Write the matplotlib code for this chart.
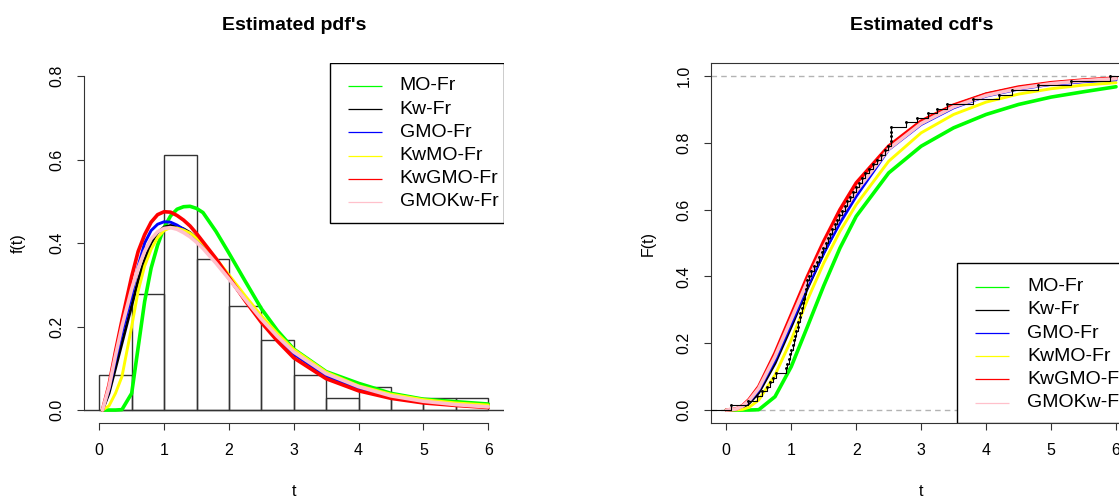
import numpy as np
import matplotlib.pyplot as plt
from matplotlib.patches import Rectangle

plt.rcParams['font.family'] = ['Liberation Sans', 'DejaVu Sans']

sample = [0.08, 0.33, 0.47,
          0.55, 0.62, 0.67, 0.72, 0.77, 0.92, 0.94, 0.96, 0.98, 0.995,
          1.03, 1.05, 1.06, 1.08, 1.1, 1.11, 1.13, 1.14, 1.16, 1.18, 1.19,
          1.21, 1.23, 1.24, 1.25, 1.28, 1.31, 1.35, 1.39, 1.43, 1.47, 1.495,
          1.53, 1.56, 1.6, 1.63, 1.67, 1.7, 1.74, 1.78, 1.82, 1.86, 1.9, 1.95, 1.995,
          2.04, 2.09, 2.14, 2.2, 2.26, 2.32, 2.38, 2.44, 2.495,
          2.53, 2.53, 2.53, 2.53, 2.76, 2.93,
          3.1, 3.25, 3.4, 3.8, 4.2, 4.4, 4.8, 5.3, 5.9]
hist_breaks = [0, 0.5, 1, 1.5, 2, 2.5, 3, 3.5, 4, 4.5, 5, 5.5, 6]

labels = ["MO-Fr", "Kw-Fr", "GMO-Fr", "KwMO-Fr", "KwGMO-Fr", "GMOKw-Fr"]
colors = ["#00FF00", "#000000", "#0000FF", "#FFFF00", "#FF0000", "#FFC0CB"]
widths = [2.6, 2.1, 2.1, 2.1, 2.6, 2.6]

# fitted densities
t_pdf = [0.05, 0.15, 0.25, 0.35, 0.5, 0.6, 0.7, 0.8, 0.9, 1.0, 1.1, 1.2, 1.3, 1.4, 1.5, 1.6,
         1.8, 2.0, 2.25, 2.5, 2.75, 3.0, 3.5, 4.0, 4.5, 5.0, 5.5, 6.0]
pdf_mo = [0, 0, 0, 0.001, 0.04, 0.15, 0.26, 0.34, 0.395, 0.437, 0.465, 0.481, 0.487, 0.488, 0.483, 0.473,
          0.428, 0.376, 0.309, 0.243, 0.19, 0.146, 0.092, 0.064, 0.04, 0.026, 0.02, 0.0144]
pdf_kw = [0, 0.04, 0.1, 0.16, 0.25, 0.31, 0.36, 0.4, 0.425, 0.438, 0.442, 0.44, 0.434, 0.425, 0.412, 0.397,
          0.36, 0.318, 0.266, 0.218, 0.174, 0.136, 0.083, 0.051, 0.032, 0.02, 0.013, 0.008]
pdf_gmo = [0, 0.05, 0.12, 0.185, 0.275, 0.345, 0.4, 0.43, 0.445, 0.451, 0.45, 0.443, 0.433, 0.42, 0.406, 0.39,
           0.355, 0.315, 0.264, 0.216, 0.172, 0.134, 0.082, 0.05, 0.031, 0.019, 0.012, 0.007]
pdf_kwmo = [0, 0.01, 0.04, 0.08, 0.2, 0.285, 0.345, 0.385, 0.413, 0.43, 0.437, 0.436, 0.431, 0.424, 0.412, 0.398,
            0.363, 0.324, 0.274, 0.226, 0.183, 0.145, 0.091, 0.058, 0.038, 0.025, 0.017, 0.012]
pdf_kwgmo = [0, 0.06, 0.14, 0.215, 0.32, 0.38, 0.42, 0.45, 0.468, 0.475, 0.474, 0.466, 0.455, 0.441, 0.423, 0.403,
             0.363, 0.318, 0.262, 0.21, 0.165, 0.125, 0.075, 0.046, 0.028, 0.017, 0.011, 0.006]
pdf_gmokw = [0, 0.055, 0.13, 0.2, 0.29, 0.34, 0.38, 0.41, 0.427, 0.435, 0.437, 0.433, 0.425, 0.415, 0.402, 0.387,
             0.352, 0.314, 0.265, 0.218, 0.176, 0.139, 0.087, 0.056, 0.034, 0.021, 0.013, 0.0075]

# fitted distribution functions
t_cdf = [0.0, 0.15, 0.25, 0.35, 0.5, 0.75, 1.0, 1.25, 1.5, 1.75, 2.0, 2.5, 3.0, 3.5,
         4.0, 4.5, 5.0, 5.5, 6.0]
cdf_mo = [0, 0, 0, 0, 0.001, 0.04, 0.13, 0.25, 0.372, 0.485, 0.58, 0.71, 0.79, 0.845,
          0.885, 0.915, 0.937, 0.953, 0.968]
cdf_kw = [0, 0.001, 0.007, 0.02, 0.052, 0.14, 0.25, 0.365, 0.47, 0.565, 0.648, 0.785, 0.862, 0.912,
          0.946, 0.966, 0.979, 0.987, 0.992]
cdf_gmo = [0, 0.002, 0.01, 0.025, 0.06, 0.15, 0.26, 0.37, 0.47, 0.56, 0.64, 0.78, 0.855, 0.905,
           0.94, 0.961, 0.975, 0.983, 0.988]
cdf_kwmo = [0, 0.0005, 0.002, 0.008, 0.03, 0.105, 0.21, 0.33, 0.44, 0.535, 0.615, 0.745, 0.83, 0.885,
            0.922, 0.946, 0.962, 0.973, 0.98]
cdf_kwgmo = [0, 0.003, 0.013, 0.031, 0.07, 0.17, 0.285, 0.4, 0.505, 0.6, 0.68, 0.79, 0.865, 0.913,
             0.946, 0.967, 0.98, 0.988, 0.994]
cdf_gmokw = [0, 0.003, 0.012, 0.028, 0.065, 0.16, 0.272, 0.385, 0.487, 0.578, 0.655, 0.782, 0.858, 0.908,
             0.942, 0.963, 0.977, 0.986, 0.992]

pdfs = [pdf_mo, pdf_kw, pdf_gmo, pdf_kwmo, pdf_kwgmo, pdf_gmokw]
cdfs = [cdf_mo, cdf_kw, cdf_gmo, cdf_kwmo, cdf_kwgmo, cdf_gmokw]

W, H = 1119, 497
AX_W, AX_H = 420.5, 360.7
fig = plt.figure(figsize=(W / 100, H / 100), dpi=100)
ax1 = fig.add_axes([83.7 / W, (H - 423.4) / H, 420.1 / W, AX_H / H])
ax2 = fig.add_axes([710.7 / W, (H - 423.4) / H, 420.9 / W, AX_H / H])


def draw_legend(ax, y0):
    """R-style boxed legend with thin sample lines."""
    x0 = 0.586
    box_h = 160 / AX_H
    ax.add_patch(Rectangle((x0, y0), 1 - x0, box_h, transform=ax.transAxes,
                           facecolor='white', edgecolor='black', lw=1, zorder=10))
    for i, (lab, col) in enumerate(zip(labels, colors)):
        yc = y0 + box_h - 23.2 * (i + 1) / AX_H
        ax.plot([x0 + 18 / AX_W, x0 + 52 / AX_W], [yc, yc], transform=ax.transAxes,
                color=col, lw=0.9, zorder=11, solid_capstyle='butt')
        ax.text(x0 + 70 / AX_W, yc, lab, transform=ax.transAxes, fontsize=14,
                va='center', ha='left', zorder=11)


def style_ticks(ax):
    ax.tick_params(direction='out', length=5, width=0.8, colors='#333333',
                   labelcolor='black', labelsize=11.5, pad=9)


# ---- pdf panel
ax1.hist(sample, bins=hist_breaks, density=True, fill=False, edgecolor='#333333', lw=1)
ax1.axhline(0, color='#333333', lw=1)
for y, c, w in zip(pdfs, colors, widths):
    ax1.plot(t_pdf, y, color=c, lw=w, solid_capstyle='round', solid_joinstyle='round')
ax1.set_xlim(-0.24, 6.24)
ax1.set_ylim(-0.032, 0.832)
for s in ['top', 'right']:
    ax1.spines[s].set_visible(False)
ax1.spines['left'].set_bounds(0, 0.8)
ax1.spines['bottom'].set_bounds(0, 6)
for s in ['left', 'bottom']:
    ax1.spines[s].set_color('#333333')
ax1.set_xticks(range(7))
ax1.set_yticks([0, 0.2, 0.4, 0.6, 0.8])
ax1.set_yticklabels(['0.0', '0.2', '0.4', '0.6', '0.8'], rotation=90, va='center')
style_ticks(ax1)
draw_legend(ax1, 1 - 160 / AX_H)

# ---- cdf panel
for y, c, w in zip(cdfs, colors, widths):
    ax2.plot(t_cdf, y, color=c, lw=w, solid_capstyle='round', solid_joinstyle='round')
xs = np.sort(sample)
fn = np.arange(1, len(xs) + 1) / len(xs)
ax2.step(np.r_[-0.3, xs, 6.3], np.r_[0, fn, 1], where='post', color='black', lw=0.8, zorder=4)
ax2.plot(xs, fn, 'o', color='black', ms=1.1, zorder=4)
ax2.axhline(0, color='#B3B3B3', lw=1, ls=(0, (4, 3)), zorder=1)
ax2.axhline(1, color='#B3B3B3', lw=1, ls=(0, (4, 3)), zorder=1)
ax2.set_xlim(-0.24, 6.24)
ax2.set_ylim(-0.04, 1.04)
for s in ax2.spines.values():
    s.set_color('#333333')
ax2.set_xticks(range(7))
ax2.set_yticks([0, 0.2, 0.4, 0.6, 0.8, 1.0])
ax2.set_yticklabels(['0.0', '0.2', '0.4', '0.6', '0.8', '1.0'], rotation=90, va='center')
style_ticks(ax2)
draw_legend(ax2, 0)

# titles and axis labels
fig.text(293.7 / W, 1 - 25 / H, "Estimated pdf's", ha='center', va='center',
         fontsize=14, fontweight='bold')
fig.text(921.2 / W, 1 - 25 / H, "Estimated cdf's", ha='center', va='center',
         fontsize=14, fontweight='bold')
fig.text(18 / W, 1 - 243 / H, "f(t)", rotation=90, ha='center', va='center', fontsize=11.5)
fig.text(648 / W, 1 - 243 / H, "F(t)", rotation=90, ha='center', va='center', fontsize=11.5)
fig.text(293.7 / W, 1 - 491 / H, "t", ha='center', va='center', fontsize=11.5)
fig.text(921.2 / W, 1 - 491 / H, "t", ha='center', va='center', fontsize=11.5)

fig.savefig('out.png', dpi=100)
